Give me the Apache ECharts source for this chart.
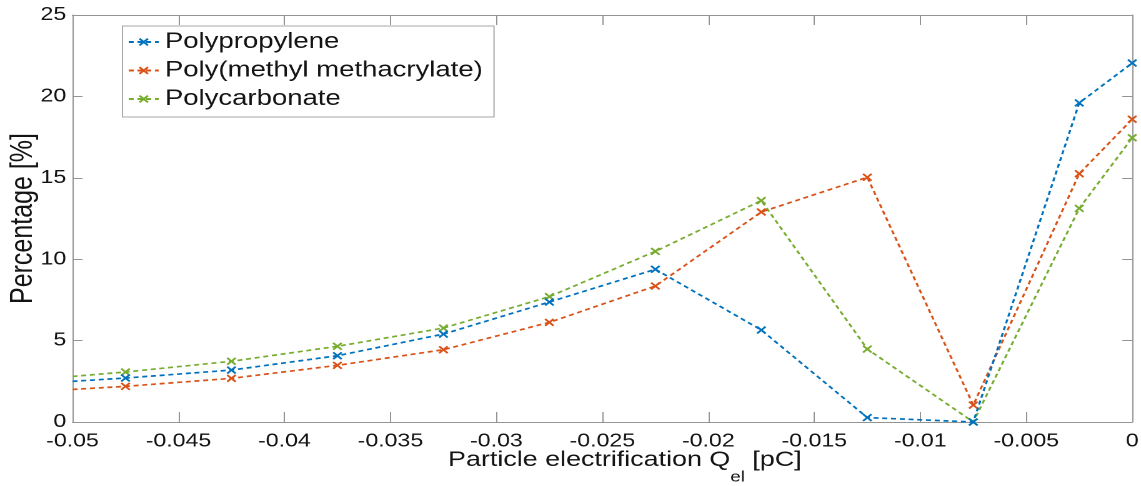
<!DOCTYPE html>
<html>
<head>
<meta charset="utf-8">
<script src="https://cdn.jsdelivr.net/npm/echarts@6/dist/echarts.min.js"></script>
<style>
  html, body { margin: 0; padding: 0; background: #fff; overflow: hidden; }
  /* the figure is drawn narrower and widened to the page width, giving the wide lettering of the exported plot */
  #chart { width: 913px; height: 486px; transform: scaleX(1.2497); transform-origin: 0 0; }
</style>
</head>
<body>
<div id="chart"></div>
<script>
// Charge bins (pC); the first entry is the left edge of the axis
const charge = [-0.05, -0.0475, -0.0425, -0.0375, -0.0325, -0.0275, -0.0225, -0.0175, -0.0125, -0.0075, -0.0025, 0];
const polypropylene = [2.5, 2.7, 3.19, 4.07, 5.40, 7.37, 9.38, 5.65, 0.27, 0.0, 19.6, 22.05];
const pmma = [2.0, 2.19, 2.68, 3.48, 4.44, 6.12, 8.35, 12.9, 15.03, 1.04, 15.25, 18.6];
const polycarbonate = [2.8, 3.07, 3.73, 4.65, 5.77, 7.70, 10.48, 13.6, 4.48, 0.0, 13.12, 17.46];

const seriesNames = ['Polypropylene', 'Poly(methyl methacrylate)', 'Polycarbonate'];
const seriesColors = ['#0072BD', '#D95319', '#77AC30'];

const xTicks = ['-0.05', '-0.045', '-0.04', '-0.035', '-0.03', '-0.025', '-0.02', '-0.015', '-0.01', '-0.005', '0'];
const yTicks = ['0', '5', '10', '15', '20', '25'];

const textColor = '#141414';
const axisColor = '#949494';
const fontFamily = 'Liberation Sans, Arial, sans-serif';
const crossMark = 'path://M0,1.5L1.5,0L5,3.5L8.5,0L10,1.5L6.5,5L10,8.5L8.5,10L5,6.5L1.5,10L0,8.5L3.5,5Z';

function toPoints(values) {
  return values.map((v, i) => i === 0
    ? { value: [charge[i], v], symbol: 'none' }
    : [charge[i], v]);
}

const valuesBySeries = [polypropylene, pmma, polycarbonate];

const chart = echarts.init(document.getElementById('chart'), null, { devicePixelRatio: 2 });

const xLabel = v => {
  const i = Math.round((v + 0.05) / 0.005);
  return xTicks[i] !== undefined ? xTicks[i] : '';
};
const yLabel = v => {
  const i = Math.round(v / 5);
  return yTicks[i] !== undefined ? yTicks[i] : '';
};

const boxAxis = {
  axisLine: { show: true, onZero: false, lineStyle: { color: axisColor, width: 1 } },
  axisLabel: { show: false },
  splitLine: { show: false }
};

chart.setOption({
  animation: false,
  backgroundColor: '#fff',
  textStyle: { fontFamily: fontFamily, color: textColor },
  grid: { left: 58, right: 7, top: 15, bottom: 64, containLabel: false, outerBoundsMode: 'none' },
  legend: {
    orient: 'vertical',
    left: 98,
    top: 26,
    padding: [4, 9, 6, 4],
    itemGap: 4.5,
    itemWidth: 24,
    itemHeight: 10,
    backgroundColor: '#fff',
    borderColor: '#a8a8a8',
    borderWidth: 1,
    borderRadius: 0,
    textStyle: { fontSize: 22, lineHeight: 24, color: textColor, fontFamily: fontFamily },
    data: seriesNames
  },
  xAxis: [{
    type: 'value',
    position: 'bottom',
    min: -0.05,
    max: 0,
    interval: 0.005,
    name: '{m|Particle electrification Q}{sub|el}{m| [pC]}',
    nameLocation: 'middle',
    nameGap: 27,
    nameMoveOverlap: false,
    nameTextStyle: {
      padding: [0, 0, 0, 36],
      rich: {
        m: { fontSize: 21.5, lineHeight: 22, verticalAlign: 'top', color: textColor, fontFamily: fontFamily },
        sub: { fontSize: 15, lineHeight: 15, padding: [21, 0, 0, 0], verticalAlign: 'top', color: textColor, fontFamily: fontFamily }
      }
    },
    axisLine: { show: true, onZero: false, lineStyle: { color: axisColor, width: 1 } },
    axisTick: { show: true, inside: true, length: 10, lineStyle: { color: axisColor, width: 1 } },
    axisLabel: { fontSize: 18.5, color: textColor, margin: 10, formatter: xLabel },
    splitLine: { show: false }
  }, Object.assign({
    type: 'value',
    position: 'top',
    min: -0.05,
    max: 0,
    interval: 0.005,
    axisTick: { show: true, inside: true, length: 10, lineStyle: { color: axisColor, width: 1 } }
  }, boxAxis)],
  yAxis: [{
    type: 'value',
    position: 'left',
    min: 0,
    max: 25,
    interval: 5,
    name: 'Percentage [%]',
    nameLocation: 'middle',
    nameGap: 27,
    nameMoveOverlap: false,
    nameTextStyle: { fontSize: 25, color: textColor },
    axisLine: { show: true, onZero: false, lineStyle: { color: axisColor, width: 1 } },
    axisTick: { show: true, inside: true, length: 8, lineStyle: { color: axisColor, width: 1 } },
    axisLabel: { fontSize: 18.5, color: textColor, margin: 5, formatter: yLabel },
    splitLine: { show: false }
  }, Object.assign({
    type: 'value',
    position: 'right',
    min: 0,
    max: 25,
    interval: 5,
    axisTick: { show: true, inside: true, length: 8, lineStyle: { color: axisColor, width: 1 } }
  }, boxAxis)],
  series: seriesNames.map((name, k) => ({
    name: name,
    type: 'line',
    xAxisIndex: 0,
    yAxisIndex: 0,
    data: toPoints(valuesBySeries[k]),
    symbol: crossMark,
    symbolSize: 8,
    showSymbol: true,
    clip: false,
    color: seriesColors[k],
    itemStyle: { color: seriesColors[k] },
    lineStyle: { color: seriesColors[k], width: 1.7, type: [4, 3] },
    emphasis: { disabled: true },
    z: 3 - k
  }))
});
</script>
</body>
</html>
